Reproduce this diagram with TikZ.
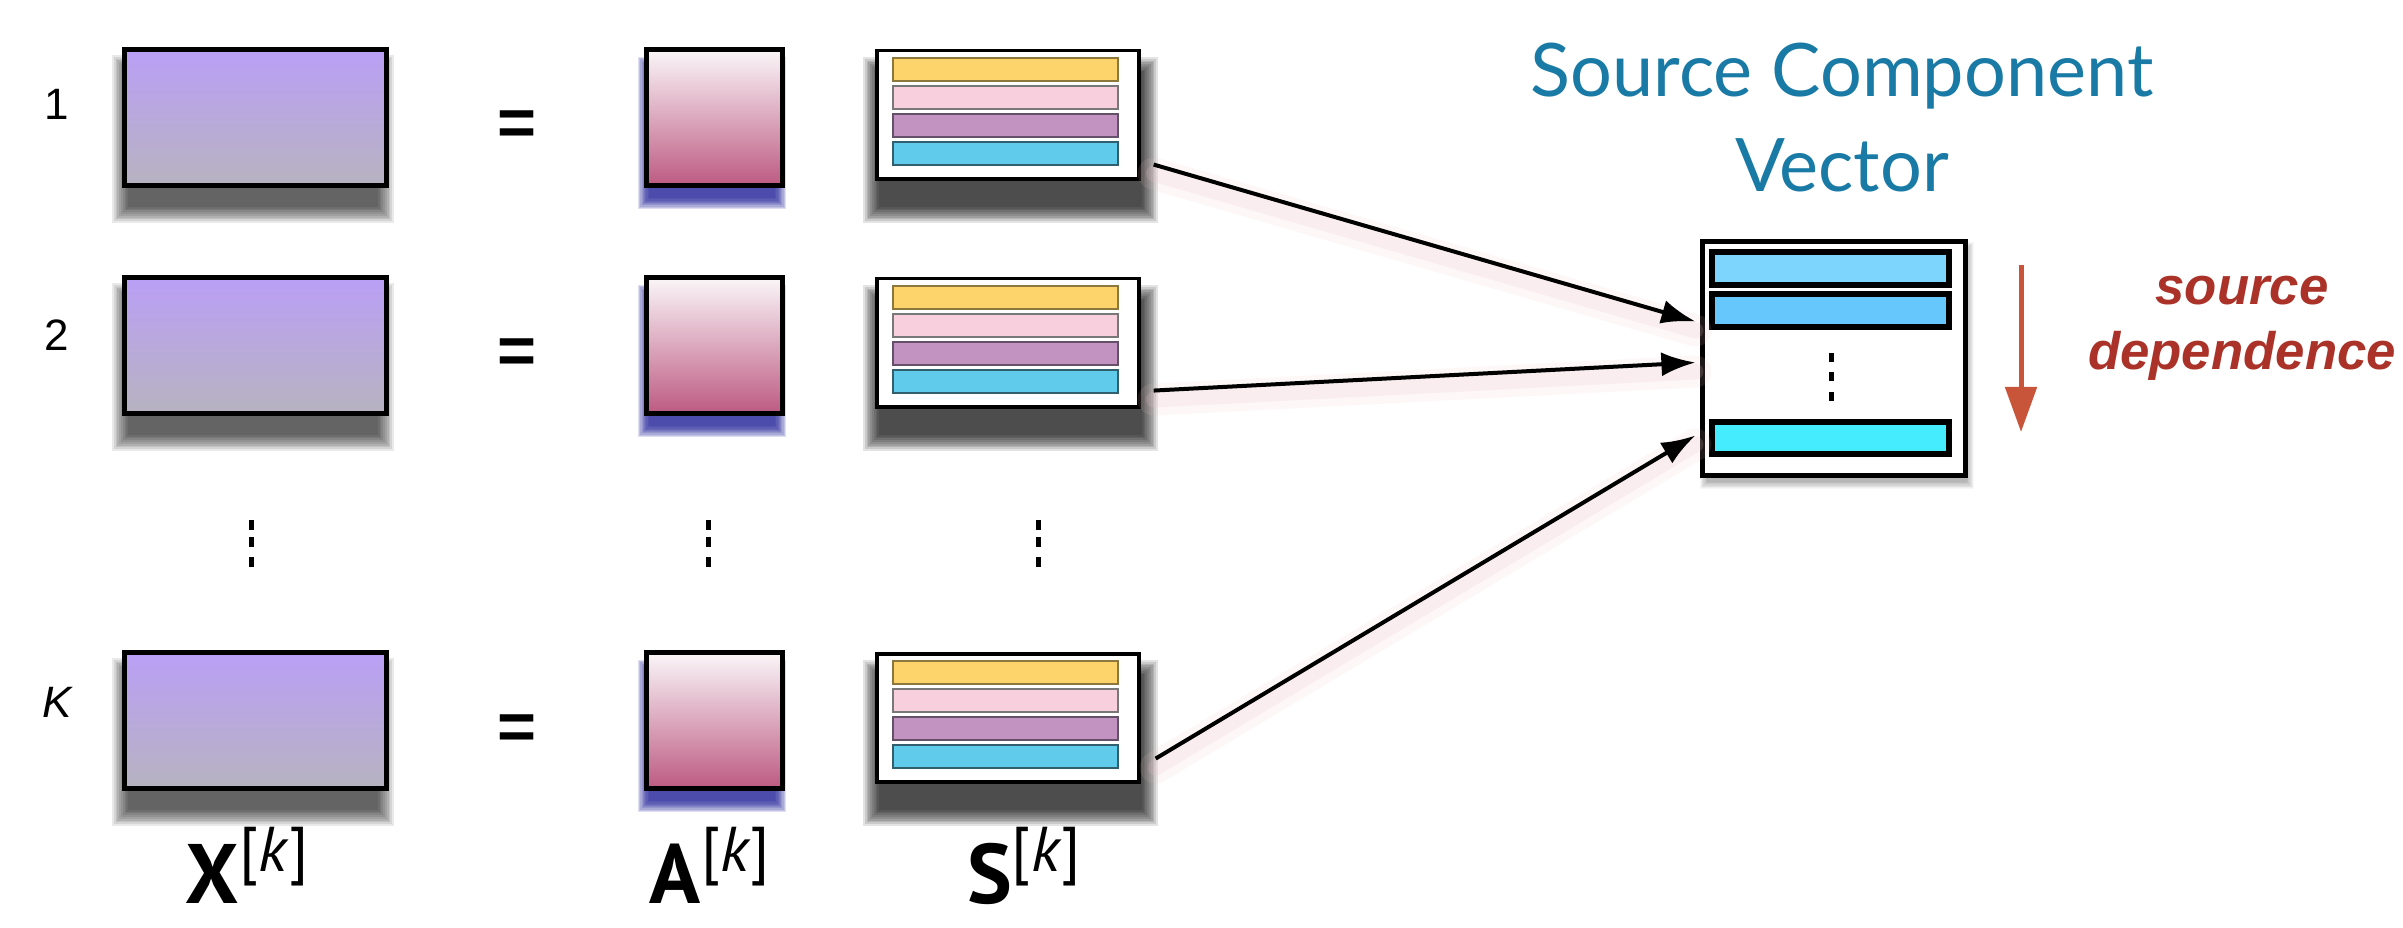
\documentclass[tikz,border=0pt]{standalone}
\usepackage{fontspec}
\setmainfont{PT Sans}
\newfontfamily\latofont{Lato}
\newfontfamily\arialfont{Liberation Sans}
\usetikzlibrary{arrows.meta,calc}
\definecolor{xtop}{RGB}{186,159,246}
\definecolor{xbot}{RGB}{183,179,192}
\definecolor{atop}{RGB}{250,246,248}
\definecolor{abot}{RGB}{189,90,130}
\definecolor{byel}{RGB}{253,212,107}
\definecolor{byelb}{RGB}{140,120,60}
\definecolor{bpink}{RGB}{248,207,221}
\definecolor{bpinkb}{RGB}{120,120,120}
\definecolor{bpurp}{RGB}{194,147,192}
\definecolor{bpurpb}{RGB}{100,80,105}
\definecolor{bcyan}{RGB}{97,203,236}
\definecolor{bcyanb}{RGB}{50,95,110}
\definecolor{vbA}{RGB}{125,213,253}
\definecolor{vbB}{RGB}{102,199,253}
\definecolor{vbC}{RGB}{69,236,253}
\definecolor{titleblue}{RGB}{26,122,166}
\definecolor{depred}{RGB}{170,50,40}
\definecolor{arrred}{RGB}{200,85,58}
\definecolor{navyshade}{RGB}{35,35,155}
\definecolor{glowpink}{RGB}{240,195,200}

\newcommand\blurbox[7]{%
  \foreach \ii in {1,...,10}{%
    \pgfmathsetmacro\rr{#6*\ii/10}%
    \fill[#5, opacity=#7] (#1-\rr,#2-\rr) rectangle (#3+\rr,#4+\rr);}}

\newcommand\sbarsfor[1]{%
  \draw[sbar, fill=byel, draw=byelb]   ($(#1.north west)+(18,9)$)  rectangle ($(#1.north west)+(243,32)$);
  \draw[sbar, fill=bpink, draw=bpinkb] ($(#1.north west)+(18,37)$) rectangle ($(#1.north west)+(243,60)$);
  \draw[sbar, fill=bpurp, draw=bpurpb] ($(#1.north west)+(18,65)$) rectangle ($(#1.north west)+(243,88)$);
  \draw[sbar, fill=bcyan, draw=bcyanb] ($(#1.north west)+(18,93)$) rectangle ($(#1.north west)+(243,116)$);}

\newcommand\matlab[1]{{\fontsize{24}{24}\selectfont\bfseries #1}\raisebox{9pt}{\fontsize{18}{18}\selectfont[\textit{k}]}}

\begin{document}
\begin{tikzpicture}[x=0.01cm,y=-0.01cm,
  xmat/.style={draw=black, line width=0.05cm, top color=xtop, bottom color=xbot, minimum width=2.62cm, minimum height=1.36cm, inner sep=0pt, anchor=north west},
  amat/.style={draw=black, line width=0.05cm, top color=atop, bottom color=abot, minimum width=1.36cm, minimum height=1.36cm, inner sep=0pt, anchor=north west},
  smat/.style={draw=black, line width=0.035cm, fill=white, minimum width=2.62cm, minimum height=1.28cm, inner sep=0pt, anchor=north west},
  vmat/.style={draw=black, line width=0.05cm, fill=white, minimum width=2.62cm, minimum height=2.33cm, inner sep=0pt},
  vbar/.style={draw=black, line width=0.06cm},
  sbar/.style={line width=0.025cm},
  rowlab/.style={font=\arialfont\fontsize{12.5}{12.5}\selectfont, inner sep=0pt},
  eqsign/.style={font=\arialfont\bfseries\fontsize{19}{19}\selectfont, inner sep=0pt, anchor=base},
  collab/.style={inner sep=0pt, anchor=base},
  conn/.style={draw=black, line width=0.04cm, -{Latex[length=0.34cm,width=0.24cm]}},
  glowwide/.style={draw=glowpink, line width=0.32cm, opacity=0.12, line cap=round},
  glownarrow/.style={draw=glowpink, line width=0.16cm, opacity=0.18, line cap=round},
  vdot/.style={fill=black},
  titletext/.style={font=\latofont\fontsize{21}{27}\selectfont, text=titleblue, align=center, inner sep=0pt, anchor=north},
  deptext/.style={font=\arialfont\bfseries\itshape\fontsize{15}{18.5}\selectfont, text=depred, align=center, inner sep=0pt, anchor=north},
  redarrow/.style={draw=arrred, line width=0.05cm, -{Triangle[length=0.45cm,width=0.31cm]}}
]
\useasboundingbox (0,0) rectangle (2403,928);
\fill[white] (0,0) rectangle (2403,928);

% rows
\foreach \r/\yy in {1/47,2/275,K/650}{
  \blurbox{130}{\yy+26}{376}{\yy+158}{black}{18}{0.085}
  \blurbox{650}{\yy+22}{774}{\yy+150}{navyshade}{12}{0.15}
  \blurbox{881}{\yy+28}{1140}{\yy+158}{black}{18}{0.11}
  \node[xmat] (X\r) at (122,\yy) {};
  \node[amat] (A\r) at (644,\yy) {};
  \node[smat] (S\r) at (875,\yy+2) {};
  \sbarsfor{S\r}
  \node[eqsign] (E\r) at (517,\yy+99) {=};
}
\node[rowlab] (L1) at (57,104) {1};
\node[rowlab] (L2) at (57,335) {2};
\node[rowlab] (LK) at (57,702) {\itshape K};

% vertical dots
\foreach \xx in {251,708,1038}{
  \foreach \yd in {525,542,562}{
    \fill[vdot] (\xx-2.5,\yd-5) rectangle (\xx+2.5,\yd+5);
  }
}

% bottom labels
\node[collab] (LX) at (247,903) {\matlab{X}};
\node[collab] (LA) at (710,903) {\matlab{A}};
\node[collab] (LS) at (1024,903) {\matlab{S}};

% source component vector
\blurbox{1708}{250}{1966}{481}{black}{8}{0.03}
\node[vmat] (V) at (1834,358.5) {};
\draw[vbar, fill=vbA] ($(V.north west)+(12,13)$)  rectangle ($(V.north west)+(249,46)$);
\draw[vbar, fill=vbB] ($(V.north west)+(12,55)$)  rectangle ($(V.north west)+(249,88)$);
\draw[vbar, fill=vbC] ($(V.north west)+(12,183)$) rectangle ($(V.north west)+(249,215)$);
\foreach \yd in {358,377,397}{
  \fill[vdot] (1831-2.5,\yd-4.5) rectangle (1831+2.5,\yd+4.5);
}

\node[titletext] (T) at (1842,42) {Source Component\\Vector};

% connectors
\begin{scope}[transform canvas={yshift=-0.09cm}]
\draw[glowwide] ([shift={(13,-16)}]S1.south east) -- ([shift={(-5,-37)}]V.west);
\draw[glowwide] ([shift={(13,-18)}]S2.south east) -- ([shift={(-5,4)}]V.west);
\draw[glowwide] ([shift={(15,-25)}]SK.south east) -- ([shift={(-5,77)}]V.west);
\draw[glownarrow] ([shift={(13,-16)}]S1.south east) -- ([shift={(-5,-37)}]V.west);
\draw[glownarrow] ([shift={(13,-18)}]S2.south east) -- ([shift={(-5,4)}]V.west);
\draw[glownarrow] ([shift={(15,-25)}]SK.south east) -- ([shift={(-5,77)}]V.west);
\end{scope}
\draw[conn] ([shift={(13,-16)}]S1.south east) -- ([shift={(-5,-37)}]V.west);
\draw[conn] ([shift={(13,-18)}]S2.south east) -- ([shift={(-5,4)}]V.west);
\draw[conn] ([shift={(15,-25)}]SK.south east) -- ([shift={(-5,77)}]V.west);

% source dependence
\coordinate (RA1) at (2021,265);
\coordinate (RA2) at (2021,432);
\draw[redarrow] (RA1) -- (RA2);
\node[deptext] (D) at (2242,275) {source\\dependence};
\end{tikzpicture}
\end{document}
